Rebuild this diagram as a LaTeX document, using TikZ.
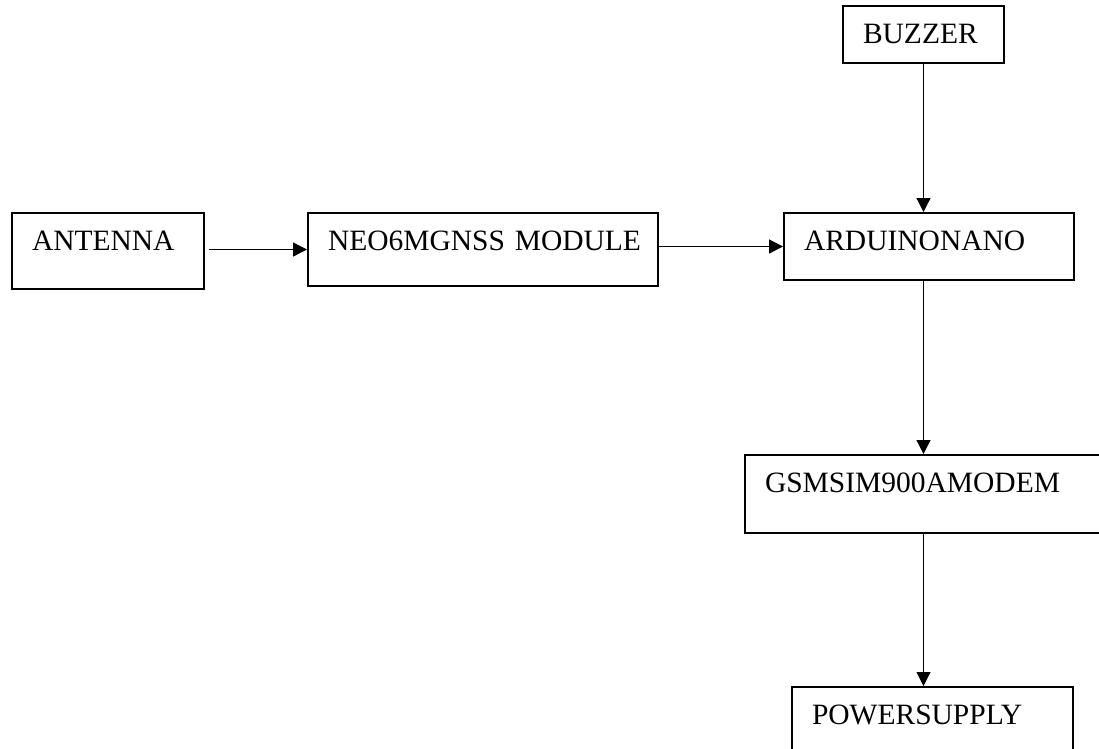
\documentclass[tikz,border=0pt]{standalone}
\usepackage{fontspec}
\setmainfont{Liberation Serif}
\usetikzlibrary{arrows.meta}

\begin{document}
\begin{tikzpicture}[
  x=0.4pt, y=-0.4pt,
  >={Triangle[length=5.6pt,width=5.6pt]},
  font=\fontsize{11.8pt}{14pt}\selectfont,
  blk/.style={draw, line width=0.8pt, anchor=north west, align=left,
    inner xsep=8pt, inner ysep=0pt, text height=14.8pt},
  flow/.style={->, line width=0.5pt},
]
\clip (0,0) rectangle (1099,748);

% ---------- input chain ----------
\node[blk, text width=60.8pt, text depth=15.6pt] (ant) at (11,212) {ANTENNA};
\node[blk, text width=124pt, text depth=14.4pt] (neo) at (307,212) {\mbox{NEO6MGNSS MODULE}};
\node[blk, text width=100pt, text depth=12pt] (ard) at (783,212) {ARDUINONANO};

% ---------- right column ----------
\node[blk, text width=48.4pt, text depth=8pt] (buz) at (842,5) {BUZZER};
\node[blk, text width=132pt, text depth=16.4pt] (gsm) at (744,454) {GSMSIM900AMODEM};
\node[blk, text width=96.4pt, text depth=15.2pt] (pow) at (791,686) {POWERSUPPLY};

% ---------- connectors ----------
\draw[flow] (ant.east |- neo.west) ++(4,0) -- (neo.west);
\draw[flow] (neo.east |- ard.west) -- (ard.west);
\draw[flow] (buz.south) -- (buz.south |- ard.north);
\draw[flow] (ard.south -| buz.south) -- (gsm.north -| buz.south);
\draw[flow, line width=0.4pt] (gsm.south -| buz.south) -- (pow.north -| buz.south);

\end{tikzpicture}
\end{document}
